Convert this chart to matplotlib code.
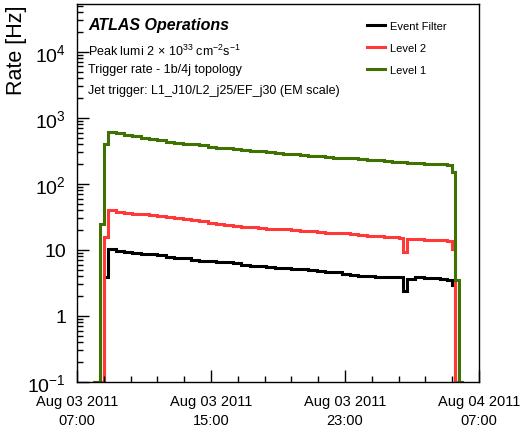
import matplotlib
matplotlib.use("Agg")
import matplotlib.pyplot as plt
from matplotlib.lines import Line2D
from matplotlib.ticker import FixedLocator, MultipleLocator, LogLocator, NullFormatter

# bin edges in hours after Aug 03 2011 07:00
bin_edges_h = [0.95, 1.37, 1.61, 1.83, 2.3, 2.8, 3.3, 3.8, 4.3, 4.8, 5.3, 5.8, 6.3, 6.8,
               7.3, 7.8, 8.3, 8.8, 9.3, 9.8, 10.3, 10.8, 11.3, 11.8, 12.3, 12.8, 13.3,
               13.8, 14.3, 14.8, 15.3, 15.8, 16.3, 16.8, 17.3, 17.8, 18.3, 18.8, 19.25,
               19.47, 19.71, 20.2, 20.7, 21.2, 21.7, 22.1, 22.37, 22.58, 22.80, 23.05]

level1_rate = [0.1, 25, 400, 605, 585, 555, 524, 497, 475, 457, 435, 420, 408, 398, 385,
               368, 355, 348, 337, 330, 320, 310, 300, 294, 288, 280, 272, 266, 264, 256,
               250, 247, 243, 240, 233, 227, 222, 216, 213, 211, 208, 205, 202, 200, 199,
               196, 152, 3.5, 0.1]

level2_rate = [0.1, 0.1, 15.7, 40.5, 38.0, 36.5, 35.5, 34.5, 33.5, 33.0, 31.3, 30.0, 29.2,
               28.3, 27.3, 26.0, 24.4, 23.8, 23.0, 22.6, 22.1, 21.6, 21.1, 20.7, 20.4, 20.0,
               19.6, 19.3, 18.8, 18.3, 18.0, 17.9, 17.4, 16.9, 16.5, 16.1, 15.9, 15.6, 15.3,
               9.3, 14.7, 14.6, 14.3, 14.1, 13.9, 13.7, 10.4, 0.1, 0.1]

ef_rate = [0.1, 0.1, 3.9, 10.3, 9.8, 9.2, 9.0, 8.7, 8.6, 8.3, 7.9, 7.6, 7.6, 7.1, 6.9, 6.7,
           6.5, 6.6, 6.3, 6.0, 5.8, 5.7, 5.5, 5.35, 5.4, 5.2, 5.1, 4.9, 4.85, 4.7, 4.6, 4.35,
           4.2, 4.05, 4.0, 3.95, 3.9, 3.85, 3.85, 2.4, 3.65, 3.85, 3.75, 3.7, 3.6, 3.5, 2.95,
           0.1, 0.1]

x_ticks_h = [0, 8, 16, 24]
x_tick_labels = ["Aug 03 2011\n07:00", "Aug 03 2011\n15:00",
                 "Aug 03 2011\n23:00", "Aug 04 2011\n07:00"]
y_ticks = [0.1, 1, 10, 100, 1000, 10000]
y_tick_labels = [r"$10^{-1}$", "1", "10", r"$10^{2}$", r"$10^{3}$", r"$10^{4}$"]

series_labels = ["Event Filter", "Level 2", "Level 1"]
series_colors = ["black", "#ff3838", "#3f7200"]

plt.rcParams["font.family"] = ["Liberation Sans", "DejaVu Sans"]
plt.rcParams["mathtext.fontset"] = "custom"
plt.rcParams["mathtext.rm"] = "Liberation Sans"
plt.rcParams["mathtext.it"] = "Liberation Sans:italic"
plt.rcParams["mathtext.bf"] = "Liberation Sans:bold"

fig = plt.figure(figsize=(5.21, 4.31), dpi=100)
ax = fig.add_axes([0.1478, 0.1114, 0.7716, 0.877])

for vals, col in zip([ef_rate, level2_rate, level1_rate], series_colors):
    ax.stairs(vals, bin_edges_h, baseline=None, color=col, lw=2.2)

ax.set_yscale("log")
ax.set_ylim(0.1, 5.3e4)
ax.set_xlim(0, 24)

ax.yaxis.set_major_locator(FixedLocator(y_ticks))
ax.set_yticklabels(y_tick_labels)
ax.yaxis.set_minor_locator(LogLocator(base=10, subs=range(2, 10), numticks=20))
ax.yaxis.set_minor_formatter(NullFormatter())

ax.xaxis.set_major_locator(FixedLocator(x_ticks_h))
ax.set_xticklabels(x_tick_labels, linespacing=1.45)
ax.xaxis.set_minor_locator(MultipleLocator(1.6))

ax.tick_params(which="both", direction="in", top=False, right=False, width=1)
ax.tick_params(which="major", length=8.5)
ax.tick_params(which="minor", length=4.5)
ax.tick_params(axis="y", labelsize=14, pad=8)
ax.tick_params(axis="x", labelsize=10.5, pad=8.5)
for s in ax.spines.values():
    s.set_linewidth(1)

fig.text(0.0326, 0.988, "Rate [Hz]", rotation=90, ha="center", va="top", fontsize=15.5)

ax.text(0.027, 0.934, "ATLAS Operations", transform=ax.transAxes, fontsize=11.5,
        fontweight="bold", fontstyle="italic", va="baseline")
ax.text(0.027, 0.865, r"Peak lumi 2$\,\times\,$10$^{33}$ cm$^{-2}$s$^{-1}$",
        transform=ax.transAxes, fontsize=9, va="baseline")
ax.text(0.027, 0.821, "Trigger rate - 1b/4j topology", transform=ax.transAxes,
        fontsize=9, va="baseline")
ax.text(0.027, 0.765, "Jet trigger: L1_J10/L2_j25/EF_j30 (EM scale)",
        transform=ax.transAxes, fontsize=9, va="baseline")

handles = [Line2D([], [], color=c, lw=2.2) for c in series_colors]
ax.legend(handles, series_labels, loc="upper left", bbox_to_anchor=(0.7044, 0.95),
          bbox_transform=fig.transFigure, frameon=False, fontsize=8,
          handlelength=1.6, handletextpad=0.45, labelspacing=1.1,
          borderpad=0, borderaxespad=0)

fig.savefig("out.png", dpi=100)
